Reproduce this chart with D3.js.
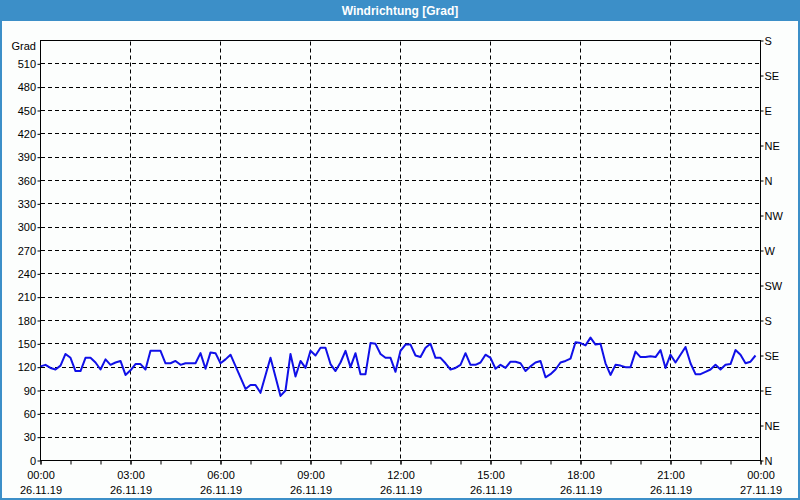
<!DOCTYPE html>
<html><head><meta charset="utf-8">
<script src="https://cdn.jsdelivr.net/npm/d3@7"></script>
<style>html,body{margin:0;padding:0;background:#fff}svg{display:block}</style>
</head><body><svg id="c" width="800" height="500"></svg>
<script>
const chartTitle = "Windrichtung [Grad]";
const yUnitLabel = "Grad";
const day = "26.11.2019";
const times = ["00:00","00:10","00:20","00:30","00:40","00:50","01:00","01:10","01:20","01:30","01:40","01:50",
"02:00","02:10","02:20","02:30","02:40","02:50","03:00","03:10","03:20","03:30","03:40","03:50",
"04:00","04:10","04:20","04:30","04:40","04:50","05:10","05:20","05:30","05:40","05:50",
"06:00","06:10","06:20","06:50","07:00","07:10","07:20","07:40","08:00","08:10","08:20","08:30","08:40","08:50",
"09:00","09:10","09:20","09:30","09:40","09:50","10:00","10:10","10:20","10:30","10:40","10:50",
"11:00","11:10","11:20","11:30","11:40","11:50","12:00","12:10","12:20","12:30","12:40","12:50",
"13:00","13:10","13:20","13:30","13:40","13:50","14:00","14:10","14:20","14:30","14:40","14:50",
"15:00","15:10","15:20","15:30","15:40","15:50","16:00","16:10","16:20","16:30","16:40","16:50",
"17:00","17:10","17:20","17:30","17:40","17:50","18:00","18:10","18:20","18:30","18:40","18:50",
"19:00","19:10","19:20","19:30","19:40","19:50","20:00","20:10","20:20","20:30","20:40","20:50",
"21:00","21:10","21:20","21:30","21:40","21:50","22:00","22:10","22:20","22:30","22:40","22:50",
"23:00","23:10","23:20","23:30","23:40","23:50"];
const directions = [121,123,119,117,122,137,132,115,115,132,132,126,
117,130,123,126,128,110,116,124,124,117,141,141,
141,125,125,128,123,125,125,138,118,139,138,
125,130,136,92,97,97,87,132,83,90,137,108,128,119,
141,135,145,145,124,115,126,141,120,138,111,111,
151,150,137,132,132,114,141,149,149,135,133,145,
150,132,132,125,117,119,123,138,123,123,126,136,
132,118,123,119,127,127,125,115,121,126,128,107,
111,117,126,128,131,152,151,148,158,149,150,125,
110,123,122,120,120,140,133,133,134,133,142,119,
136,126,136,146,125,111,111,114,117,123,117,123,
124,142,136,125,127,135];
const yTicks = [0,30,60,90,120,150,180,210,240,270,300,330,360,390,420,450,480,510];
const compassTicks = [0,45,90,135,180,225,270,315,360,405,450,495,540];
const compassLabels = ["N","NE","E","SE","S","SW","W","NW","N","NE","E","SE","S"];
const xTickTimes = ["26.11.2019 00:00","26.11.2019 03:00","26.11.2019 06:00","26.11.2019 09:00","26.11.2019 12:00",
"26.11.2019 15:00","26.11.2019 18:00","26.11.2019 21:00","27.11.2019 00:00"];

const parse = d3.timeParse("%d.%m.%Y %H:%M");
const data = times.map((t, i) => ({ t: parse(day + " " + t), v: directions[i] }));
const xTicks = xTickTimes.map(parse);

const W = 800, H = 500;
const L = 40, R = 760, T = 40.5, B = 460.5;
const font = "'Liberation Sans', Arial, sans-serif";

const svg = d3.select("#c");
svg.append("rect").attr("width", W).attr("height", H).attr("fill", "#fcfefd");
svg.append("rect").attr("width", W).attr("height", 21).attr("fill", "#3c8fc8");
svg.append("rect").attr("x", 1).attr("y", 1).attr("width", W - 2).attr("height", H - 2)
  .attr("fill", "none").attr("stroke", "#3c8fc8").attr("stroke-width", 2);
svg.append("text").attr("x", W / 2).attr("y", 15).attr("text-anchor", "middle")
  .attr("font-family", font).attr("font-weight", "bold").attr("font-size", 12)
  .attr("fill", "#fff").text(chartTitle);

const x = d3.scaleTime().domain([xTicks[0], xTicks[xTicks.length - 1]]).range([L + 0.5, R + 0.5]);
const y = d3.scaleLinear().domain([0, 540]).range([B, T]);
const snap = v => Math.round(v - 0.5) + 0.5;

// grid
const grid = svg.append("g").attr("stroke", "#000").attr("stroke-width", 1).attr("stroke-dasharray", "4,3");
grid.selectAll("line.h").data(yTicks.filter(d => d > 0)).join("line")
  .attr("x1", L + 1).attr("x2", R).attr("y1", d => snap(y(d))).attr("y2", d => snap(y(d)));
grid.selectAll("line.v").data(xTicks.slice(1, -1)).join("line")
  .attr("y1", T + 1).attr("y2", B).attr("x1", d => snap(x(d))).attr("x2", d => snap(x(d)));

// left axis
const gl = svg.append("g").attr("transform", `translate(${L + 0.5},0)`)
  .call(d3.axisLeft(y).tickValues(yTicks).tickSize(3).tickPadding(2).tickFormat(d3.format("d")));
// right axis
const gr = svg.append("g").attr("transform", `translate(${R + 0.5},0)`)
  .call(d3.axisRight(y).tickValues(compassTicks).tickSize(3).tickPadding(1)
    .tickFormat((d, i) => compassLabels[i]));
// bottom axis: hourly minor ticks
const hours = d3.timeHour.range(xTicks[0], d3.timeMinute.offset(xTicks[xTicks.length - 1], 1));
const gb = svg.append("g").attr("transform", `translate(0,${B})`)
  .call(d3.axisBottom(x).tickValues(hours).tickSize(4).tickFormat(""));
const gb2 = svg.append("g").attr("transform", `translate(0,${B})`)
  .call(d3.axisBottom(x).tickValues(xTicks).tickSize(4).tickPadding(7).tickFormat(d3.timeFormat("%H:%M")));

[gl, gr, gb, gb2].forEach(g => {
  g.select(".domain").remove();
  g.selectAll(".tick line").attr("stroke", "#000");
  g.selectAll("text").attr("font-family", font).attr("font-size", 11).attr("fill", "#000");
});
gl.selectAll(".tick text").attr("x", -4.5);
gb2.selectAll(".tick text").each(function (d) {
  const t = d3.select(this);
  t.append("tspan").attr("x", 0).attr("dy", "1.3em").text(d3.timeFormat("%d.%m.%y")(d).replace(/\./g, ". ").replace(/\. $/, "").replace(/ /g, ""));
});

// frame
svg.append("rect").attr("x", L + 0.5).attr("y", T).attr("width", R - L).attr("height", B - T)
  .attr("fill", "none").attr("stroke", "#000").attr("stroke-width", 1);

svg.append("text").attr("x", 36).attr("y", 46).attr("dy", "0.35em").attr("text-anchor", "end")
  .attr("font-family", font).attr("font-size", 11).attr("fill", "#000").text(yUnitLabel);

// data line
svg.append("path").datum(data)
  .attr("fill", "none").attr("stroke", "#1010e8").attr("stroke-width", 2).attr("stroke-linejoin", "round")
  .attr("d", d3.line().x(d => x(d.t)).y(d => y(d.v)));
</script></body></html>
